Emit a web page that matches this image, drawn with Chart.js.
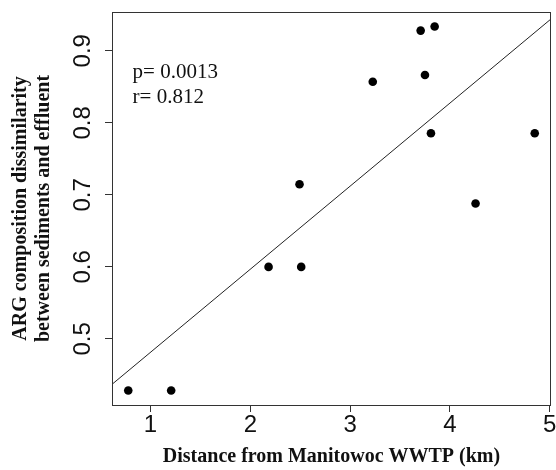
<!DOCTYPE html>
<html><head><meta charset="utf-8">
<script src="https://cdn.jsdelivr.net/npm/chart.js@4/dist/chart.umd.min.js"></script>
<style>html,body{margin:0;padding:0;background:#fff}canvas{display:block}</style>
</head><body>
<canvas id="c" width="556" height="470"></canvas>
<script>
// ---- data ----
const distanceKm    = [0.777, 1.207, 2.183, 2.51, 2.493, 3.227, 3.707, 3.847, 3.75, 3.81, 4.85, 4.257];
const dissimilarity = [0.4285, 0.4285, 0.6, 0.6, 0.7147, 0.857, 0.928, 0.9336, 0.8664, 0.7856, 0.7856, 0.688];
const xTicks = [1, 2, 3, 4, 5];
const yTicks = [0.5, 0.6, 0.7, 0.8, 0.9];
const statLabels = ['p= 0.0013', 'r= 0.812'];
const statAnchor = {x: 0.82, y: 0.862};
const xTitle = 'Distance from Manitowoc WWTP (km)';
const yTitle = ['ARG composition dissimilarity', 'between sediments and effluent'];

// R-style axis limits (data range extended by 4%)
function ext(arr){const mn=Math.min(...arr),mx=Math.max(...arr),d=(mx-mn)*0.04;return [mn-d,mx+d];}
const [xMin, xMax] = ext(distanceKm);
const [yMin, yMax] = ext(dissimilarity);

// least-squares fit
const n = distanceKm.length;
const mx = distanceKm.reduce((a,b)=>a+b,0)/n;
const my = dissimilarity.reduce((a,b)=>a+b,0)/n;
let sxy=0,sxx=0;
for(let i=0;i<n;i++){sxy+=(distanceKm[i]-mx)*(dissimilarity[i]-my);sxx+=(distanceKm[i]-mx)**2;}
const slope = sxy/sxx, intercept = my - slope*mx;

const points = distanceKm.map((x,i)=>({x, y: dissimilarity[i]}));
const fitLine = [xMin, xMax].map(x=>({x, y: intercept + slope*x}));

const frame = {
  id:'frame',
  afterDatasetsDraw(chart){
    const {ctx, chartArea:a, scales} = chart;
    ctx.save();
    ctx.strokeStyle='#333'; ctx.lineWidth=1;
    ctx.strokeRect(Math.round(a.left)+0.5, Math.round(a.top)+0.5, Math.round(a.right-a.left)-1, Math.round(a.bottom-a.top));
    ctx.fillStyle='#111';
    ctx.font='21px "Liberation Serif", "Times New Roman", serif';
    ctx.textBaseline='alphabetic'; ctx.textAlign='left';
    const px = scales.x.getPixelForValue(statAnchor.x);
    const py = scales.y.getPixelForValue(statAnchor.y);
    statLabels.forEach((t,i)=>ctx.fillText(t, px, py + i*25));
    ctx.restore();
  }
};

new Chart(document.getElementById('c'), {
  data: {
    datasets: [
      {type:'scatter', data: points, pointRadius:4.3, pointBackgroundColor:'#000', pointBorderWidth:0, pointHoverRadius:4.3},
      {type:'line', data: fitLine, borderColor:'#222', borderWidth:1, pointRadius:0, fill:false, tension:0}
    ]
  },
  options: {
    responsive:false, animation:false, devicePixelRatio:1,
    layout:{padding:{top:12, right:5, left:0, bottom:0}},
    plugins:{legend:{display:false}, tooltip:{enabled:false}},
    scales:{
      x:{
        type:'linear', position:'bottom', min:xMin, max:xMax,
        afterBuildTicks:s=>{s.ticks = xTicks.map(v=>({value:v}));},
        afterFit:s=>{s.height=65; s.paddingLeft=0; s.paddingRight=0;},
        border:{display:false},
        grid:{drawOnChartArea:false, drawTicks:true, tickLength:7, tickColor:'#333', tickWidth:1},
        ticks:{color:'#111', padding:1, maxRotation:0, font:{family:'"Liberation Sans", Arial, sans-serif', size:24, lineHeight:1}, callback:v=>String(v)},
        title:{display:true, text:xTitle, color:'#111', padding:{top:0,bottom:1.5},
          font:{family:'"Liberation Serif", "Times New Roman", serif', size:20, weight:'bold', lineHeight:1.2}}
      },
      y:{
        type:'linear', position:'left', min:yMin, max:yMax,
        afterBuildTicks:s=>{s.ticks = yTicks.map(v=>({value:v}));},
        afterFit:s=>{s.width=112; s.paddingTop=0; s.paddingBottom=0;},
        border:{display:false},
        grid:{drawOnChartArea:false, drawTicks:true, tickLength:7, tickColor:'#333', tickWidth:1},
        ticks:{color:'#111', padding:5, minRotation:90, maxRotation:90, crossAlign:'center',
          font:{family:'"Liberation Sans", Arial, sans-serif', size:24, lineHeight:1}, callback:v=>v.toFixed(1)},
        title:{display:true, text:yTitle, color:'#111', padding:{top:9,bottom:0},
          font:{family:'"Liberation Serif", "Times New Roman", serif', size:20, weight:'bold', lineHeight:1.15}}
      }
    }
  },
  plugins:[frame]
});
</script>
</body></html>
